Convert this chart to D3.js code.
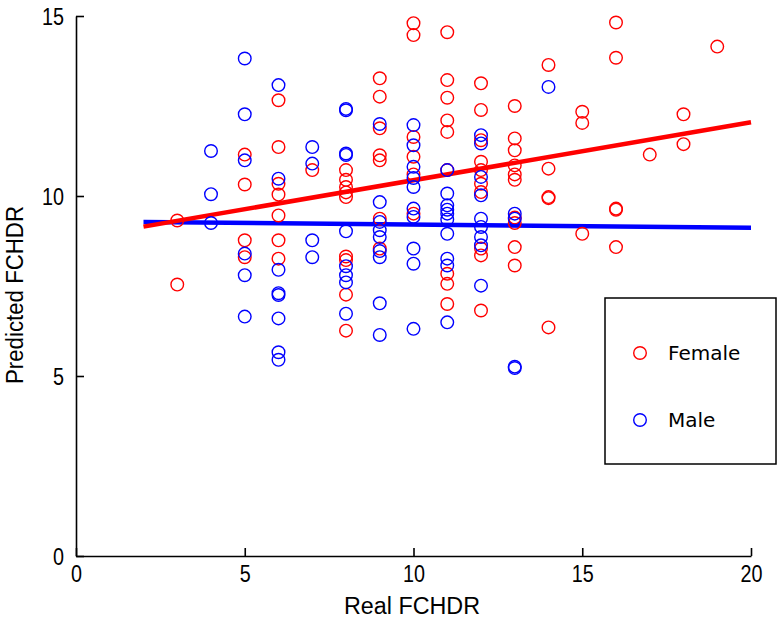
<!DOCTYPE html>
<html>
<head>
<meta charset="utf-8">
<script src="https://cdn.jsdelivr.net/npm/d3@7"></script>
<style>
  html, body { margin: 0; padding: 0; background: #fff; }
  svg { display: block; }
</style>
</head>
<body>
<svg id="chart" width="784" height="623"></svg>
<script>
// ---- data ----
const femaleX = [3,3, 5,5,5,5, 6,6,6,6,6,6,6, 7,
  8,8,8,8,8,8,8,8,8, 9,9,9,9,9,9,9, 10,10,10,10,10,10,
  11,11,11,11,11,11,11,11,11, 12,12,12,12,12,12,12,12,12,12,
  13,13,13,13,13,13,13,13,13,13, 14,14,14,14,14, 15,15,15,
  16,16,16,16,16, 17, 18,18, 19];
const femaleY = [9.32,7.54, 11.15,10.32,8.77,8.3, 12.66,11.36,10.34,10.04,9.46,8.77,8.26, 10.72,
  10.72,10.45,10.25,10.1,9.97,8.32,8.22,7.26,6.26, 13.27,12.76,11.88,11.13,10.99,9.37,8.54,
  14.8,14.47,11.64,11.09,10.6,9.51,
  14.55,13.22,12.73,12.1,11.78,10.72,7.84,7.56,7.0,
  13.13,12.39,11.55,10.95,10.72,10.34,10.11,8.54,8.35,6.82,
  12.5,11.6,11.27,10.85,10.6,10.45,9.4,9.25,8.58,8.07,
  13.64,10.76,9.97,9.94,6.35, 12.34,12.03,8.95,
  14.82,13.84,9.65,9.62,8.58, 11.15, 12.27,11.44, 14.15];

const maleX = [4,4,4, 5,5,5,5,5,5, 6,6,6,6,6,6,6,6, 7,7,7,7,
  8,8,8,8,8,8,8,8,8, 9,9,9,9,9,9,9,9,9,
  10,10,10,10,10,10,10,10,10,10, 11,11,11,11,11,11,11,11,11,11,
  12,12,12,12,12,12,12,12,12, 13,13,13,13, 14];
const maleY = [11.25,10.05,9.25, 13.82,12.27,10.99,8.4,7.8,6.65,
  13.08,10.48,7.95,7.3,7.25,6.6,5.66,5.45, 11.36,10.9,8.77,8.3,
  12.42,12.38,11.18,11.14,9.02,8.05,7.8,7.6,6.73,
  12.0,9.83,9.28,9.05,8.86,8.47,8.3,7.02,6.14,
  11.97,11.41,10.81,10.5,10.25,9.65,9.42,8.54,8.12,6.31,
  10.72,10.07,9.74,9.62,9.51,9.35,8.95,8.26,8.07,6.49,
  11.69,11.46,10.53,10.02,9.37,9.14,8.86,8.63,7.51,
  9.51,9.37,5.26,5.22, 13.03];

// regression fit lines (endpoints)
const fitX = [2, 20];
const femaleFit = [9.15, 12.05];
const maleFit = [9.28, 9.12];

const xTicks = [0, 5, 10, 15, 20];
const yTicks = [0, 5, 10, 15];
const seriesNames = ["Female", "Male"];
const seriesColors = ["#ff0000", "#0000ff"];

// ---- layout ----
const svg = d3.select("#chart");
const x = d3.scaleLinear().domain([0, 20]).range([76, 751]);
const y = d3.scaleLinear().domain([0, 15]).range([556, 16]);
const tickFont = "'Liberation Sans Narrow', 'Arial Narrow', 'Liberation Sans', Arial, sans-serif";

const line = d3.line().x(d => x(d[0])).y(d => y(d[1]));
svg.append("path")
  .datum(fitX.map((v, i) => [v, maleFit[i]]))
  .attr("d", line).attr("fill", "none")
  .attr("stroke", seriesColors[1]).attr("stroke-width", 4.5);
svg.append("path")
  .datum(fitX.map((v, i) => [v, femaleFit[i]]))
  .attr("d", line).attr("fill", "none")
  .attr("stroke", seriesColors[0]).attr("stroke-width", 4.5);

// markers
const r = 6.3;
svg.append("g").selectAll("circle")
  .data(femaleX.map((v, i) => [v, femaleY[i]]))
  .join("circle")
  .attr("cx", d => x(d[0])).attr("cy", d => y(d[1])).attr("r", r)
  .attr("fill", "none").attr("stroke", seriesColors[0]).attr("stroke-width", 1.4);
svg.append("g").selectAll("circle")
  .data(maleX.map((v, i) => [v, maleY[i]]))
  .join("circle")
  .attr("cx", d => x(d[0])).attr("cy", d => y(d[1])).attr("r", r)
  .attr("fill", "none").attr("stroke", seriesColors[1]).attr("stroke-width", 1.4);

// axes (ticks inward, like MATLAB)
const xAxis = d3.axisBottom(x).tickValues(xTicks).tickSizeInner(-8).tickSizeOuter(0).tickPadding(10);
const gx = svg.append("g").attr("transform", `translate(0,${y(0)})`).call(xAxis);
const yAxis = d3.axisLeft(y).tickValues(yTicks).tickSizeInner(-8).tickSizeOuter(0).tickPadding(12);
const gy = svg.append("g").attr("transform", `translate(${x(0)},0)`).call(yAxis);
[gx, gy].forEach(g => {
  g.select(".domain").attr("stroke", "#000").attr("stroke-width", 1.6);
  g.selectAll(".tick line").attr("stroke", "#000").attr("stroke-width", 1.6);
  g.selectAll(".tick text").attr("fill", "#000")
    .style("font-family", tickFont).style("font-size", "23px")
    .attr("lengthAdjust", "spacingAndGlyphs")
    .attr("textLength", d => String(d).length * 11);
});
gx.selectAll(".tick text").attr("dy", "0.71em");
gy.selectAll(".tick text").attr("dy", "0.35em");

// axis labels
svg.append("text").attr("x", 412).attr("y", 614).attr("text-anchor", "middle")
  .style("font-family", tickFont).style("font-size", "23px")
  .attr("lengthAdjust", "spacingAndGlyphs").attr("textLength", 136)
  .text("Real FCHDR");
svg.append("text").attr("transform", "translate(23,295) rotate(-90)").attr("text-anchor", "middle")
  .style("font-family", tickFont).style("font-size", "23px")
  .attr("lengthAdjust", "spacingAndGlyphs").attr("textLength", 178)
  .text("Predicted FCHDR");

// legend
const lg = svg.append("g");
lg.append("rect").attr("x", 605).attr("y", 298).attr("width", 171).attr("height", 166)
  .attr("fill", "#fff").attr("stroke", "#000").attr("stroke-width", 1.5);
seriesNames.forEach((name, i) => {
  const cy = 353 + i * 67;
  lg.append("circle").attr("cx", 640).attr("cy", cy).attr("r", 6.3)
    .attr("fill", "none").attr("stroke", seriesColors[i]).attr("stroke-width", 1.4);
  lg.append("text").attr("x", 668).attr("y", cy).attr("dy", "0.35em")
    .style("font-family", "'DejaVu Sans', Verdana, sans-serif").style("font-size", "20px")
    .attr("fill", "#000").text(name);
});
</script>
</body>
</html>
